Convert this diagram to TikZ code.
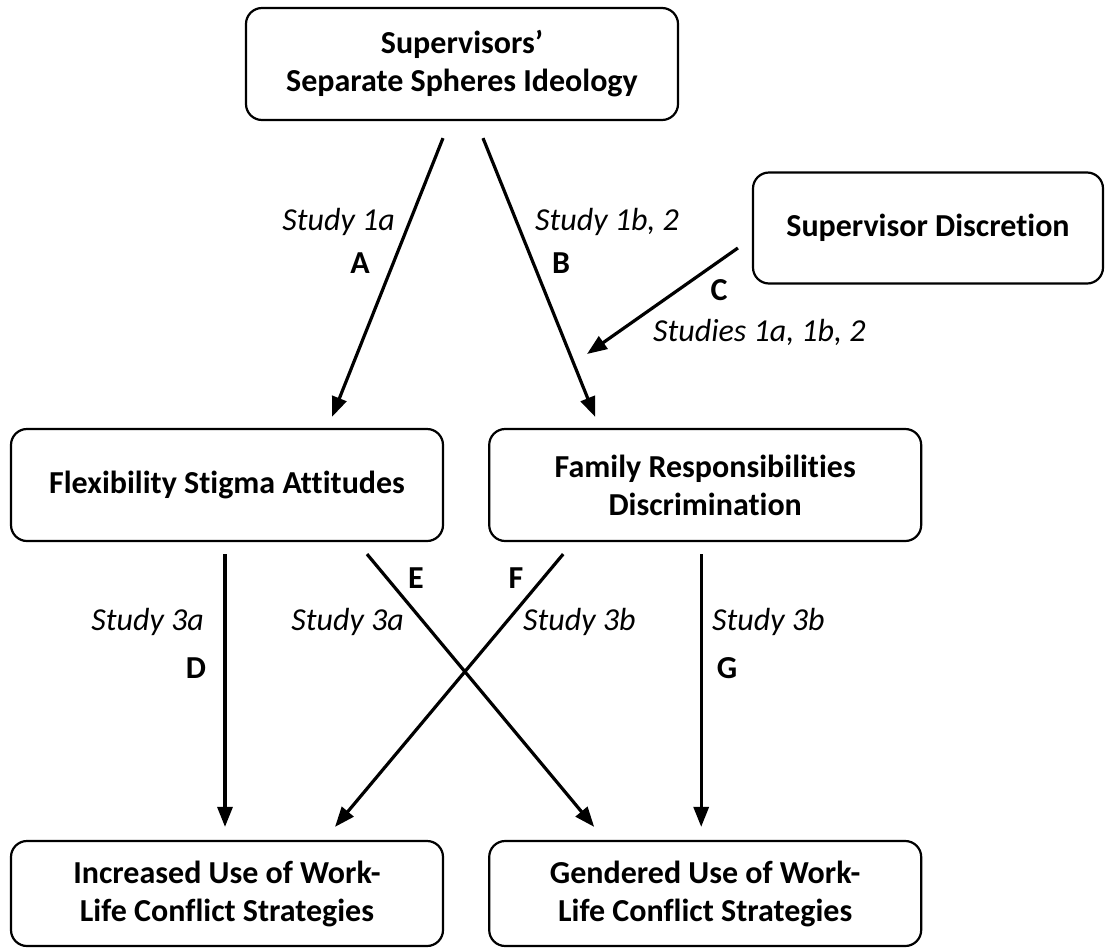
\documentclass[tikz,border=0pt]{standalone}
\usepackage{fontspec}
\setmainfont{Carlito}[Ligatures=NoCommon]
\usetikzlibrary{arrows.meta,positioning}

\begin{document}
\begin{tikzpicture}[
  x=1pt, y=-1pt,
  node distance=44pt,
  entity/.style={
    draw,
    line width=2.2pt,
    rounded corners=16pt,
    minimum width=432pt,
    minimum height=112pt,
    align=center,
    font=\fontsize{32}{38}\selectfont\bfseries
  },
  relation/.style={
    -{Triangle[length=20pt,width=15pt]},
    line width=3.2pt
  },
  study label/.style={
    inner sep=0pt,
    font=\fontsize{32}{38}\selectfont\itshape
  },
  path label/.style={
    inner sep=0pt,
    font=\fontsize{32}{38}\selectfont\bfseries
  }
]
\useasboundingbox (0,0) rectangle (1105,948);

% Nodes
\node[entity] (ssi) at (462,64) {Supervisors'\\Separate Spheres Ideology};
\node[entity, minimum width=350pt, minimum height=111pt] (disc) at (928,228) {Supervisor Discretion};
\node[entity] (fsa) at (227,485) {Flexibility Stigma Attitudes};
\node[entity, right=of fsa] (frd) {Family Responsibilities\\Discrimination};
\node[entity, minimum height=105pt] (iuw) at (227,893.5) {Increased Use of Work-\\Life Conflict Strategies};
\node[entity, minimum height=105pt, right=of iuw] (guw) {Gendered Use of Work-\\Life Conflict Strategies};
\coordinate (bmid) at (587,354);

% Relationships
\draw[relation] ([xshift=-19pt,yshift=-17pt]ssi.south) -- ([xshift=105pt,yshift=11pt]fsa.north);
\draw[relation] ([xshift=21pt,yshift=-17pt]ssi.south) -- ([xshift=-110pt,yshift=11pt]frd.north);
\draw[relation] ([xshift=-14pt,yshift=-20pt]disc.west) -- (bmid);
\draw[relation] ([xshift=-2pt,yshift=-12pt]fsa.south) -- ([xshift=-2pt,yshift=13pt]iuw.north);
\draw[relation] ([xshift=140pt,yshift=-12pt]fsa.south) -- ([xshift=-111pt,yshift=13pt]guw.north);
\draw[relation] ([xshift=-142pt,yshift=-12pt]frd.south) -- ([xshift=108pt,yshift=13pt]iuw.north);
\draw[relation] ([xshift=-4pt,yshift=-12pt]frd.south) -- ([xshift=-4pt,yshift=13pt]guw.north);

% Labels
\node[study label, anchor=east] (s1a) at (395,222) {Study 1a};
\node[path label] (la) at (360,263) {A};
\node[study label, anchor=west] (s1b) at (535,222) {Study 1b, 2};
\node[path label] (lb) at (561,263) {B};
\node[path label] (lc) at (719,290) {C};
\node[study label, anchor=west] (sall) at (653,332) {Studies 1a, 1b, 2};
\node[study label, anchor=east] (s3al) at (204,622) {Study 3a};
\node[path label] (ld) at (196,668) {D};
\node[study label, anchor=east] (s3am) at (404,622) {Study 3a};
\node[path label] (le) at (416,578) {E};
\node[path label] (lf) at (516,578) {F};
\node[study label, anchor=west] (s3bm) at (523,622) {Study 3b};
\node[study label, anchor=west] (s3br) at (712,622) {Study 3b};
\node[path label] (lg) at (727,668) {G};

\end{tikzpicture}
\end{document}
